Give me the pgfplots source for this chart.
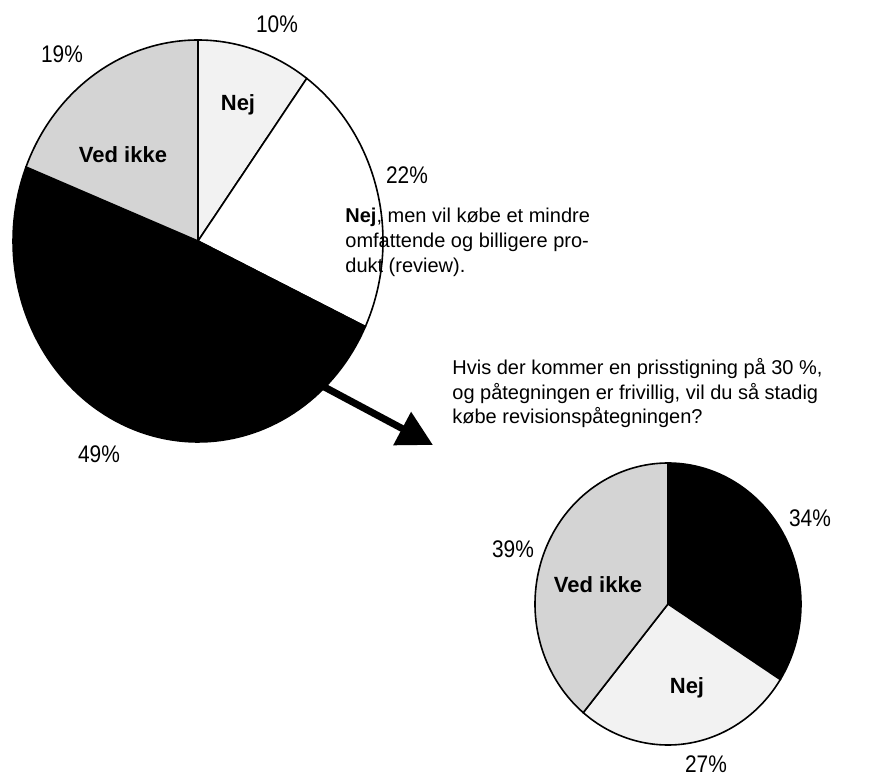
\documentclass[border=0pt]{standalone}
\usepackage{graphicx}
\usepackage{pgfplots}
\pgfplotsset{compat=1.18}
\usepackage{fontspec}
\setmainfont{Liberation Sans}
\usetikzlibrary{arrows.meta}

% slice: cx, cy, rx, ry, cumulative start %, cumulative end %, style
\newcommand{\pieslice}[7]{%
  \addplot[#7, draw=black, line width=0.8pt, domain=90-3.6*#6:90-3.6*#5, samples=90, variable=\t]
    ({#1+#3*cos(\t)},{#2-#4*sin(\t)}) -- (#1,#2) -- cycle;
}
\newcommand{\pct}[1]{{\fontsize{12}{14}\selectfont\scalebox{0.87}[1]{#1}}}
\newcommand{\lbl}[1]{{\fontsize{11}{13}\selectfont\bfseries #1}}
\colorlet{vedikke}{black!17}
\colorlet{nej}{black!5}

\begin{document}
\begin{tikzpicture}
\begin{axis}[
  scale only axis, width=445.5pt, height=387pt,
  xmin=0, xmax=891, ymin=0, ymax=774, y dir=reverse,
  hide axis, clip=false,
]
% Big pie: Nej 10, Nej men ... 22, (black) 49, Ved ikke 19
\pieslice{198}{241}{185}{201}{0}{10}{fill=nej}
\pieslice{198}{241}{185}{201}{10}{32}{fill=white}
\pieslice{198}{241}{185}{201}{32}{81}{fill=black}
\pieslice{198}{241}{185}{201}{81}{100}{fill=vedikke}
% Small pie: (black) 34, Nej 27, Ved ikke 39
\pieslice{668}{604}{133}{141}{0}{34}{fill=black}
\pieslice{668}{604}{133}{141}{34}{61}{fill=nej}
\pieslice{668}{604}{133}{141}{61}{100}{fill=vedikke}

% arrow
\draw[line width=3.5pt, -{Triangle[length=17.5pt,width=18pt]}] (300,374) -- (433,445);

% percentage labels
\node at (277,24) {\pct{10\%}};
\node at (62,54) {\pct{19\%}};
\node at (407,175) {\pct{22\%}};
\node at (99,454) {\pct{49\%}};
\node at (810,518) {\pct{34\%}};
\node at (513,549) {\pct{39\%}};
\node at (706,764) {\pct{27\%}};

% slice labels
\node at (238,105) {\lbl{Nej}};
\node at (123,155) {\lbl{Ved ikke}};
\node at (598,585) {\lbl{Ved ikke}};
\node at (687,688) {\lbl{Nej}};

% text blocks
\begingroup
\fontsize{11.7}{14}\selectfont
\node[anchor=base west, inner sep=0pt] at (345,223) {\textbf{Nej}, men vil købe et mindre};
\node[anchor=base west, inner sep=0pt] at (345,248) {omfattende og billigere pro-};
\node[anchor=base west, inner sep=0pt] at (345,273) {dukt (review).};
\node[anchor=base west, inner sep=0pt] at (452,375) {Hvis der kommer en prisstigning på 30 \%,};
\node[anchor=base west, inner sep=0pt] at (452,400) {og påtegningen er frivillig, vil du så stadig};
\node[anchor=base west, inner sep=0pt] at (452,424) {købe revisionspåtegningen?};
\endgroup
\end{axis}
\path (current axis.south west) rectangle (current axis.north east);
\end{tikzpicture}
\end{document}
